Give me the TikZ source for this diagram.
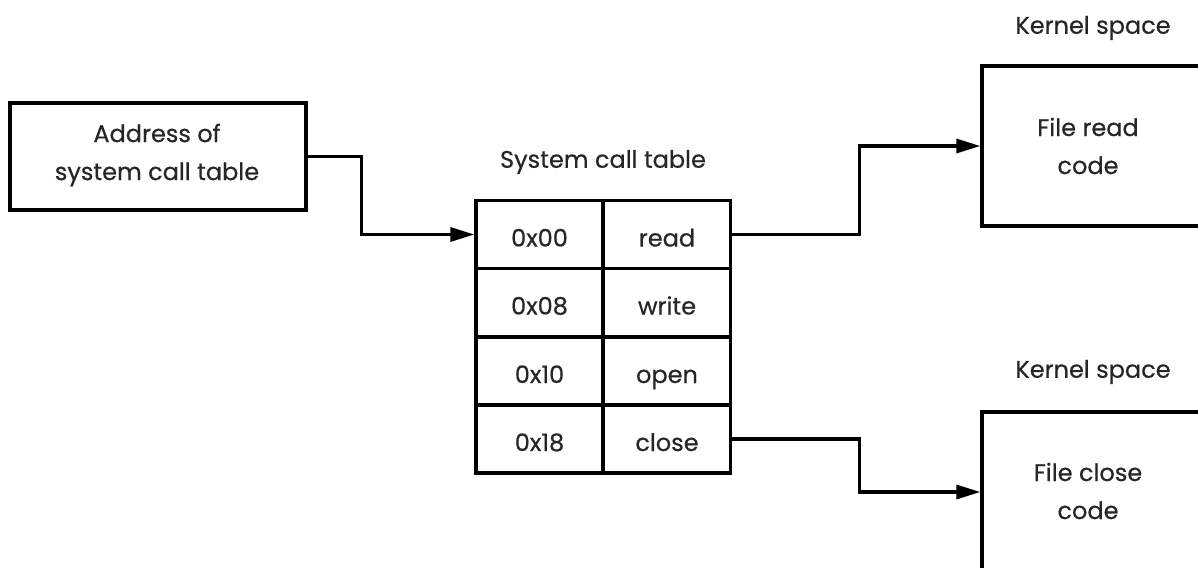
\documentclass[tikz,border=0pt]{standalone}
\usepackage{fontspec}
\setmainfont{Poppins}[FakeBold=0.5]
\usetikzlibrary{arrows.meta}
\begin{document}
\begin{tikzpicture}[x=1pt,y=-1pt,
  conn/.style={line width=3.3pt,-{Triangle[length=24pt,width=14pt]}},
  txt/.style={font=\fontsize{24}{38}\selectfont, text=black!85, align=center, inner sep=0pt},
  box/.style={draw, line width=3.3pt, inner sep=0pt},
  cell/.style={box, minimum width=127pt, minimum height=68pt, txt, text height=26pt, text depth=2pt},
]
\useasboundingbox (0,0) rectangle (1198,567);
\clip (0,0) rectangle (1198,567);
% left box
\node[box, minimum width=296pt, minimum height=107pt] (addr) at (158,156.5) {};
\node[txt] (addrt) at (157,155) {Address of\\system call table};
% table
\node[txt] (ttitle) at (603,162) {System call table};
\node[cell] (a0) at (539.5,234.5) {0x00};
\node[cell] (r0) at (667,234.5) {read};
\node[cell] (a1) at (539.5,302.5) {0x08};
\node[cell] (r1) at (667,302.5) {write};
\node[cell] (a2) at (539.5,371) {0x10};
\node[cell] (r2) at (667,371) {open};
\node[cell] (a3) at (539.5,439) {0x18};
\node[cell] (r3) at (667,439) {close};
% right boxes
\node[box, minimum width=278pt, minimum height=160pt] (fr) at (1121,146) {};
\node[txt] (frt) at (1088,146) {File read\\code};
\node[txt] (k1) at (1093,28) {Kernel space};
\node[box, minimum width=278pt, minimum height=160pt] (fc) at (1121,492) {};
\node[txt] (fct) at (1088,491) {File close\\code};
\node[txt] (k2) at (1093,372) {Kernel space};
% connectors
\draw[conn] (addr.east) -- ++(54,0) |- (a0.west);
\draw[conn] (r0.east) -- ++(127,0) |- (fr.west);
\draw[conn] (r3.east) -- ++(127,0) |- (fc.west);
\end{tikzpicture}
\end{document}
